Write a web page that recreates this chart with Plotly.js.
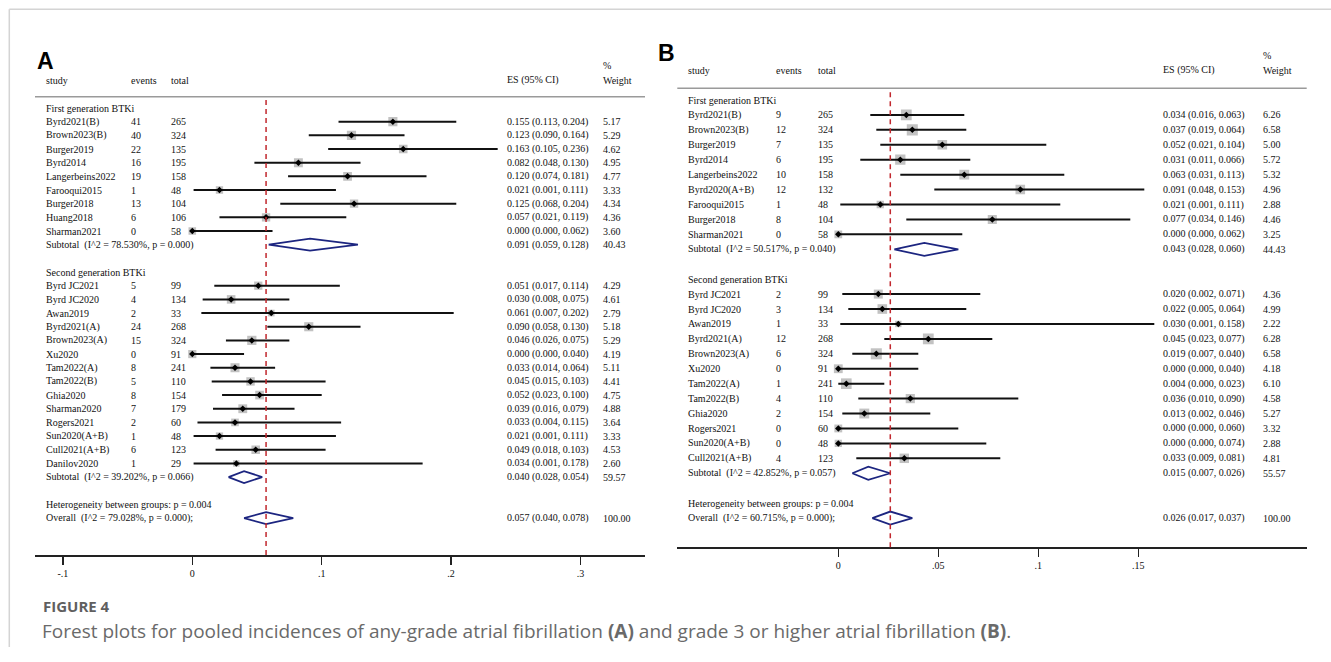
<!DOCTYPE html>
<html>
<head>
<meta charset="utf-8">
<script src="https://cdn.plot.ly/plotly-3.0.1.min.js"></script>
<style>html,body{margin:0;padding:0;background:#fff;}#chart{width:1331px;height:662px;}</style>
</head>
<body>
<div id="chart"></div>
<script>
// ---------------- Panel A: any-grade atrial fibrillation ----------------
const A1_study  = ["Byrd2021(B)","Brown2023(B)","Burger2019","Byrd2014","Langerbeins2022","Farooqui2015","Burger2018","Huang2018","Sharman2021"];
const A1_events = [41,40,22,16,19,1,13,6,0];
const A1_total  = [265,324,135,195,158,48,104,106,58];
const A1_es     = [0.155,0.123,0.163,0.082,0.120,0.021,0.125,0.057,0.000];
const A1_lo     = [0.113,0.090,0.105,0.048,0.074,0.001,0.068,0.021,0.000];
const A1_hi     = [0.204,0.164,0.236,0.130,0.181,0.111,0.204,0.119,0.062];
const A1_w      = [5.17,5.29,4.62,4.95,4.77,3.33,4.34,4.36,3.60];

const A2_study  = ["Byrd JC2021","Byrd JC2020","Awan2019","Byrd2021(A)","Brown2023(A)","Xu2020","Tam2022(A)","Tam2022(B)","Ghia2020","Sharman2020","Rogers2021","Sun2020(A+B)","Cull2021(A+B)","Danilov2020"];
const A2_events = [5,4,2,24,15,0,8,5,8,7,2,1,6,1];
const A2_total  = [99,134,33,268,324,91,241,110,154,179,60,48,123,29];
const A2_es     = [0.051,0.030,0.061,0.090,0.046,0.000,0.033,0.045,0.052,0.039,0.033,0.021,0.049,0.034];
const A2_lo     = [0.017,0.008,0.007,0.058,0.026,0.000,0.014,0.015,0.023,0.016,0.004,0.001,0.018,0.001];
const A2_hi     = [0.114,0.075,0.202,0.130,0.075,0.040,0.064,0.103,0.100,0.079,0.115,0.111,0.103,0.178];
const A2_w      = [4.29,4.61,2.79,5.18,5.29,4.19,5.11,4.41,4.75,4.88,3.64,3.33,4.53,2.60];

const A_sub_es = [0.091,0.040];
const A_sub_lo = [0.059,0.028];
const A_sub_hi = [0.128,0.054];
const A_sub_w  = [40.43,59.57];
const A_sub_i2 = ["78.530","39.202"];
const A_sub_p  = ["0.000","0.066"];
const A_het_p  = "0.004";
const A_all    = [0.057,0.040,0.078];   // es, lo, hi
const A_all_i2 = "79.028";
const A_all_p  = "0.000";
const A_ticks  = [-0.1,0,0.1,0.2,0.3];
const A_tickText = ["-.1","0",".1",".2",".3"];

// ---------------- Panel B: grade >=3 atrial fibrillation ----------------
const B1_study  = ["Byrd2021(B)","Brown2023(B)","Burger2019","Byrd2014","Langerbeins2022","Byrd2020(A+B)","Farooqui2015","Burger2018","Sharman2021"];
const B1_events = [9,12,7,6,10,12,1,8,0];
const B1_total  = [265,324,135,195,158,132,48,104,58];
const B1_es     = [0.034,0.037,0.052,0.031,0.063,0.091,0.021,0.077,0.000];
const B1_lo     = [0.016,0.019,0.021,0.011,0.031,0.048,0.001,0.034,0.000];
const B1_hi     = [0.063,0.064,0.104,0.066,0.113,0.153,0.111,0.146,0.062];
const B1_w      = [6.26,6.58,5.00,5.72,5.32,4.96,2.88,4.46,3.25];

const B2_study  = ["Byrd JC2021","Byrd JC2020","Awan2019","Byrd2021(A)","Brown2023(A)","Xu2020","Tam2022(A)","Tam2022(B)","Ghia2020","Rogers2021","Sun2020(A+B)","Cull2021(A+B)"];
const B2_events = [2,3,1,12,6,0,1,4,2,0,0,4];
const B2_total  = [99,134,33,268,324,91,241,110,154,60,48,123];
const B2_es     = [0.020,0.022,0.030,0.045,0.019,0.000,0.004,0.036,0.013,0.000,0.000,0.033];
const B2_lo     = [0.002,0.005,0.001,0.023,0.007,0.000,0.000,0.010,0.002,0.000,0.000,0.009];
const B2_hi     = [0.071,0.064,0.158,0.077,0.040,0.040,0.023,0.090,0.046,0.060,0.074,0.081];
const B2_w      = [4.36,4.99,2.22,6.28,6.58,4.18,6.10,4.58,5.27,3.32,2.88,4.81];

const B_sub_es = [0.043,0.015];
const B_sub_lo = [0.028,0.007];
const B_sub_hi = [0.060,0.026];
const B_sub_w  = [44.43,55.57];
const B_sub_i2 = ["50.517","42.852"];
const B_sub_p  = ["0.040","0.057"];
const B_het_p  = "0.004";
const B_all    = [0.026,0.017,0.037];
const B_all_i2 = "60.715";
const B_all_p  = "0.000";
const B_ticks  = [0,0.05,0.1,0.15];
const B_tickText = ["0",".05",".1",".15"];

const groupNames = ["First generation BTKi","Second generation BTKi"];

// ---------------- layout geometry (pixels) ----------------
const W = 1331, H = 662;
const SERIF = "Liberation Serif, Times New Roman, serif";
const TXT = "#111";

const GA = {xa:"x", ya:"y", x0:35, x1:645, zero:192.3, ppu:1294, top:96.7, bot:555,
            row0:108, dRow:13.67, cols:[45,130,170,506,602], headY:80, pctY:65,
            letter:"A", letterX:35, letterY:61, box:4.0, dia:6};
const GB = {xa:"x2", ya:"y2", x0:677.3, x1:1306.7, zero:838.3, ppu:2000, top:88.3, bot:547.3,
            row0:100, dRow:14.93, cols:[687,775,817,1162.3,1261.7], headY:70, pctY:55,
            letter:"B", letterX:656, letterY:53.5, box:4.3, dia:6.5};

const f3 = v => v.toFixed(3);
const ciText = (e,l,h) => f3(e) + " (" + f3(l) + ", " + f3(h) + ")";

const traces = [];
const annotations = [];
const shapes = [];
const layout = {};

function txt(x, y, yref, text, extra) {
  annotations.push(Object.assign({
    x: x / W, xref: "paper", y: y, yref: yref, text: text, showarrow: false,
    xanchor: "left", yanchor: "middle", borderpad: 0,
    font: {family: SERIF, size: 10, color: TXT}
  }, extra || {}));
}

function buildPanel(G, D, axIndex) {
  const yref = G.ya;
  const c = G.cols;
  const studies = [];
  const subs = [];
  let k = 0;
  [0,1].forEach(g => {
    txt(c[0], k, yref, groupNames[g]);
    k += 1;
    const grp = D.groups[g];
    grp.study.forEach((s,i) => {
      studies.push({k:k, name:s, ev:grp.events[i], tot:grp.total[i], es:grp.es[i], lo:grp.lo[i], hi:grp.hi[i], w:grp.w[i]});
      k += 1;
    });
    subs.push({k:k, es:D.sub.es[g], lo:D.sub.lo[g], hi:D.sub.hi[g], w:D.sub.w[g],
               label:"Subtotal\u00a0 (I^2 = " + D.sub.i2[g] + "%, p = " + D.sub.p[g] + ")"});
    k += 2;
  });
  const hetK = k; const allK = k + 1;

  studies.forEach(r => {
    txt(c[0], r.k, yref, r.name);
    txt(c[1], r.k, yref, String(r.ev));
    txt(c[2], r.k, yref, String(r.tot));
    txt(c[3], r.k, yref, ciText(r.es, r.lo, r.hi));
    txt(c[4], r.k, yref, r.w.toFixed(2));
  });
  subs.forEach(s => {
    txt(c[0], s.k, yref, s.label);
    txt(c[3], s.k, yref, ciText(s.es, s.lo, s.hi));
    txt(c[4], s.k, yref, s.w.toFixed(2));
  });
  txt(c[0], hetK, yref, "Heterogeneity between groups: p = " + D.hetP);
  txt(c[0], allK, yref, "Overall\u00a0 (I^2 = " + D.allI2 + "%, p = " + D.allP + ");");
  txt(c[3], allK, yref, ciText(D.all[0], D.all[1], D.all[2]));
  txt(c[4], allK, yref, (100).toFixed(2));

  const hy = 1 - G.headY / H;
  txt(c[0], hy, "paper", "study");
  txt(c[1], hy, "paper", "events");
  txt(c[2], hy, "paper", "total");
  txt(c[3], hy, "paper", "ES (95% CI)");
  txt(c[4], hy, "paper", "Weight");
  txt(c[4], 1 - G.pctY / H, "paper", "%");
  annotations.push({x: G.letterX / W, xref: "paper", y: 1 - G.letterY / H, yref: "paper",
    text: "<b>" + G.letter + "</b>", showarrow: false, xanchor: "left", yanchor: "middle",
    font: {family: "Liberation Sans, Arial, sans-serif", size: 23, color: "#000"}});

  traces.push({type:"scatter", mode:"markers", xaxis:G.xa, yaxis:G.ya, hoverinfo:"skip",
    x: studies.map(r => r.es), y: studies.map(r => r.k),
    marker:{symbol:"square", size: studies.map(r => G.box * Math.sqrt(r.w)), color:"#a8a8a8", line:{width:0}}});
  const lx = [], ly = [];
  studies.forEach(r => { lx.push(r.lo, r.hi, null); ly.push(r.k, r.k, null); });
  traces.push({type:"scatter", mode:"lines", xaxis:G.xa, yaxis:G.ya, hoverinfo:"skip",
    x: lx, y: ly, line:{color:"#111", width:2}});
  traces.push({type:"scatter", mode:"markers", xaxis:G.xa, yaxis:G.ya, hoverinfo:"skip",
    x: studies.map(r => r.es), y: studies.map(r => r.k),
    marker:{symbol:"diamond", size:5, color:"#000", line:{width:0}}});
  const h = G.dia / G.dRow;
  const dx = [], dy = [];
  subs.concat([{k:allK, es:D.all[0], lo:D.all[1], hi:D.all[2]}]).forEach(s => {
    dx.push(s.lo, s.es, s.hi, s.es, s.lo, null);
    dy.push(s.k, s.k - h, s.k, s.k + h, s.k, null);
  });
  traces.push({type:"scatter", mode:"lines", xaxis:G.xa, yaxis:G.ya, hoverinfo:"skip",
    x: dx, y: dy, line:{color:"#1c2580", width:1.8}});

  const xr = [(G.x0 - G.zero) / G.ppu, (G.x1 - G.zero) / G.ppu];
  const yr = [(G.bot - G.row0) / G.dRow, (G.top - G.row0) / G.dRow];
  const xname = axIndex === 1 ? "xaxis" : "xaxis2";
  const yname = axIndex === 1 ? "yaxis" : "yaxis2";
  layout[xname] = {domain:[G.x0 / W, G.x1 / W], range:xr, anchor:G.ya,
    showline:true, linecolor:"#222", linewidth:1.5, ticks:"outside", ticklen:8, tickwidth:1.5,
    tickcolor:"#222", tickvals:D.ticks, ticktext:D.tickText, showgrid:false, zeroline:false,
    tickfont:{family:SERIF, size:10, color:TXT}, fixedrange:true};
  layout[yname] = {domain:[1 - G.bot / H, 1 - G.top / H], range:yr, anchor:G.xa,
    showgrid:false, zeroline:false, showticklabels:false, showline:false, ticks:"", fixedrange:true};

  shapes.push({type:"line", xref:"paper", yref:"paper", x0:G.x0 / W, x1:G.x1 / W,
    y0:1 - G.top / H, y1:1 - G.top / H, line:{color:"#9a9a9a", width:1.5}});
  shapes.push({type:"line", xref:G.xa, yref:G.ya + " domain", x0:D.all[0], x1:D.all[0], y0:0, y1:1,
    line:{color:"#c1272d", width:1.5, dash:"5px,4px"}});
}

buildPanel(GA, {
  groups:[{study:A1_study, events:A1_events, total:A1_total, es:A1_es, lo:A1_lo, hi:A1_hi, w:A1_w},
          {study:A2_study, events:A2_events, total:A2_total, es:A2_es, lo:A2_lo, hi:A2_hi, w:A2_w}],
  sub:{es:A_sub_es, lo:A_sub_lo, hi:A_sub_hi, w:A_sub_w, i2:A_sub_i2, p:A_sub_p},
  hetP:A_het_p, all:A_all, allI2:A_all_i2, allP:A_all_p, ticks:A_ticks, tickText:A_tickText
}, 1);
buildPanel(GB, {
  groups:[{study:B1_study, events:B1_events, total:B1_total, es:B1_es, lo:B1_lo, hi:B1_hi, w:B1_w},
          {study:B2_study, events:B2_events, total:B2_total, es:B2_es, lo:B2_lo, hi:B2_hi, w:B2_w}],
  sub:{es:B_sub_es, lo:B_sub_lo, hi:B_sub_hi, w:B_sub_w, i2:B_sub_i2, p:B_sub_p},
  hetP:B_het_p, all:B_all, allI2:B_all_i2, allP:B_all_p, ticks:B_ticks, tickText:B_tickText
}, 2);

shapes.push({type:"line", xref:"paper", yref:"paper", x0:9.3 / W, x1:1, y0:1 - 9.3 / H, y1:1 - 9.3 / H,
  line:{color:"#d4d4d4", width:1.5}});
shapes.push({type:"line", xref:"paper", yref:"paper", x0:9.3 / W, x1:9.3 / W, y0:1 - 9.3 / H, y1:1 - 647 / H,
  line:{color:"#d4d4d4", width:1.5}});

annotations.push({x:41 / W, xref:"paper", y:1 - 606 / H, yref:"paper", text:"<b>FIGURE 4</b>",
  showarrow:false, xanchor:"left", yanchor:"middle",
  font:{family:"Open Sans, Noto Sans, sans-serif", size:15, color:"#5f5f5f"}});
annotations.push({x:40 / W, xref:"paper", y:1 - 631 / H, yref:"paper",
  text:"Forest plots for pooled incidences of any-grade atrial fibrillation <b>(A)</b> and grade 3 or higher atrial fibrillation <b>(B)</b>.",
  showarrow:false, xanchor:"left", yanchor:"middle",
  font:{family:"Open Sans, Noto Sans, sans-serif", size:19, color:"#6a6a6a"}});

Object.assign(layout, {
  width:W, height:H, margin:{l:0, r:0, t:0, b:0},
  paper_bgcolor:"#fff", plot_bgcolor:"rgba(0,0,0,0)", showlegend:false,
  annotations:annotations, shapes:shapes, hovermode:false
});

Plotly.newPlot("chart", traces, layout, {staticPlot:true, displayModeBar:false});
</script>
</body>
</html>
